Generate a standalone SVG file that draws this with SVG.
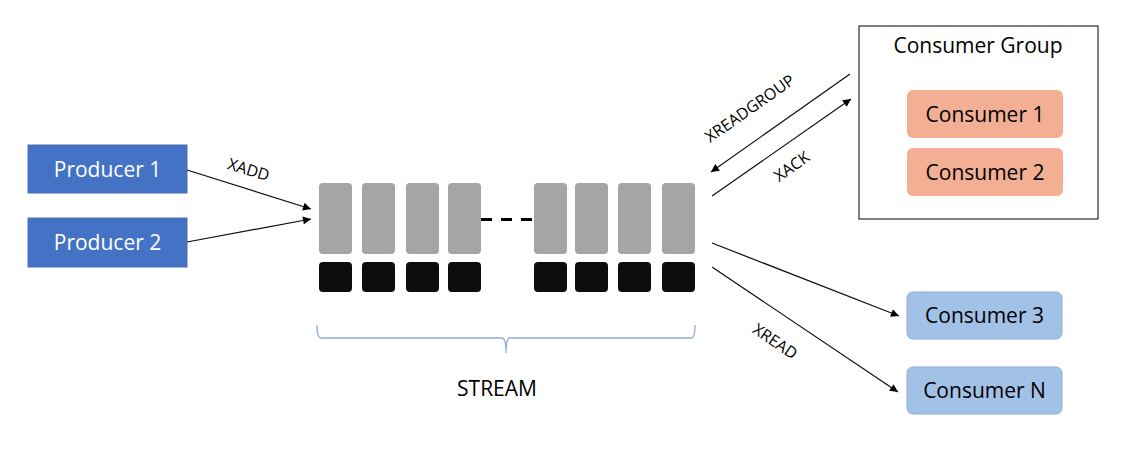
<svg xmlns="http://www.w3.org/2000/svg" width="1124" height="452" viewBox="0 0 1124 452">
<style>
text{font-family:"Open Sans","Liberation Sans",sans-serif;}
.lbl{font-size:21px;text-anchor:middle;}
.small{font-size:16px;text-anchor:middle;fill:#000;}
.prod{fill:#4472C4;stroke:#4A6FB5;stroke-width:1;}
.cg{fill:#F3AF94;}
.cb{fill:#A2C1E6;stroke:#8FAADC;stroke-width:1;}
.gray{fill:#A5A5A5;}
.blk{fill:#0D0D0D;}
.conn{stroke:#0A0A1A;stroke-width:1.2;fill:none;}
</style>
<defs>
<marker id="ah" viewBox="0 0 10 10" refX="10" refY="5" markerWidth="10" markerHeight="8" markerUnits="userSpaceOnUse" orient="auto">
<path d="M0,0 L10,5 L0,10 z" fill="#000"/>
</marker>
</defs>
<rect width="1124" height="452" fill="#fff"/>

<g id="producer1"><rect class="prod" x="28" y="145" width="159" height="48"/><text class="lbl" x="107.5" y="176.5" fill="#fff">Producer 1</text></g>
<g id="producer2"><rect class="prod" x="28" y="218" width="159" height="49"/><text class="lbl" x="107.5" y="250" fill="#fff">Producer 2</text></g>

<g id="stream">
<rect class="gray" x="319" y="183" width="33" height="71" rx="4"/>
<rect class="gray" x="362" y="183" width="33" height="71" rx="4"/>
<rect class="gray" x="406" y="183" width="33" height="71" rx="4"/>
<rect class="gray" x="448" y="183" width="33" height="71" rx="4"/>
<rect class="gray" x="534" y="183" width="33" height="71" rx="4"/>
<rect class="gray" x="575" y="183" width="33" height="71" rx="4"/>
<rect class="gray" x="618" y="183" width="33" height="71" rx="4"/>
<rect class="gray" x="662" y="183" width="33" height="71" rx="4"/>
<rect class="blk" x="319" y="262" width="33" height="30" rx="4"/>
<rect class="blk" x="362" y="262" width="33" height="30" rx="4"/>
<rect class="blk" x="406" y="262" width="33" height="30" rx="4"/>
<rect class="blk" x="448" y="262" width="33" height="30" rx="4"/>
<rect class="blk" x="534" y="262" width="33" height="30" rx="4"/>
<rect class="blk" x="575" y="262" width="33" height="30" rx="4"/>
<rect class="blk" x="618" y="262" width="33" height="30" rx="4"/>
<rect class="blk" x="662" y="262" width="33" height="30" rx="4"/>
<line x1="481" y1="219.5" x2="534" y2="219.5" stroke="#000" stroke-width="3" stroke-dasharray="11,9"/>
<path d="M317,325 Q317,338 321,338 L502,338 Q506,338 506,353 Q506,338 510,338 L691,338 Q695,338 695,325" fill="none" stroke="#8FAADC" stroke-width="1.3"/>
<text class="lbl" x="497" y="396">STREAM</text>
</g>

<g id="consumer-group">
<rect x="859" y="26" width="239" height="193" fill="#fff" stroke="#000" stroke-width="1"/>
<text class="lbl" x="978" y="53">Consumer Group</text>
</g>
<g id="consumer1"><rect class="cg" x="907" y="90" width="156" height="48" rx="6"/><text class="lbl" x="985" y="121.5">Consumer 1</text></g>
<g id="consumer2"><rect class="cg" x="907" y="148" width="156" height="48" rx="6"/><text class="lbl" x="985" y="179.5">Consumer 2</text></g>
<g id="consumer3"><rect class="cb" x="907" y="292" width="155" height="47" rx="6"/><text class="lbl" x="984.5" y="323">Consumer 3</text></g>
<g id="consumerN"><rect class="cb" x="907" y="367" width="155" height="47" rx="6"/><text class="lbl" x="984.5" y="398">Consumer N</text></g>

<g id="connectors">
<line class="conn" x1="187" y1="170" x2="311" y2="209" marker-end="url(#ah)"/>
<line class="conn" x1="187" y1="242" x2="311" y2="219" marker-end="url(#ah)"/>
<line class="conn" x1="850" y1="74" x2="711" y2="172" marker-end="url(#ah)"/>
<line class="conn" x1="712" y1="196" x2="851" y2="99" marker-end="url(#ah)"/>
<line class="conn" x1="712" y1="243" x2="899" y2="316" marker-end="url(#ah)"/>
<line class="conn" x1="712" y1="267" x2="898" y2="392" marker-end="url(#ah)"/>
<text class="small" transform="translate(247,175) rotate(17)">XADD</text>
<text class="small" transform="translate(753,113) rotate(-35)">XREADGROUP</text>
<text class="small" transform="translate(795,171) rotate(-35)">XACK</text>
<text class="small" transform="translate(772,346) rotate(34)">XREAD</text>
</g>
</svg>
